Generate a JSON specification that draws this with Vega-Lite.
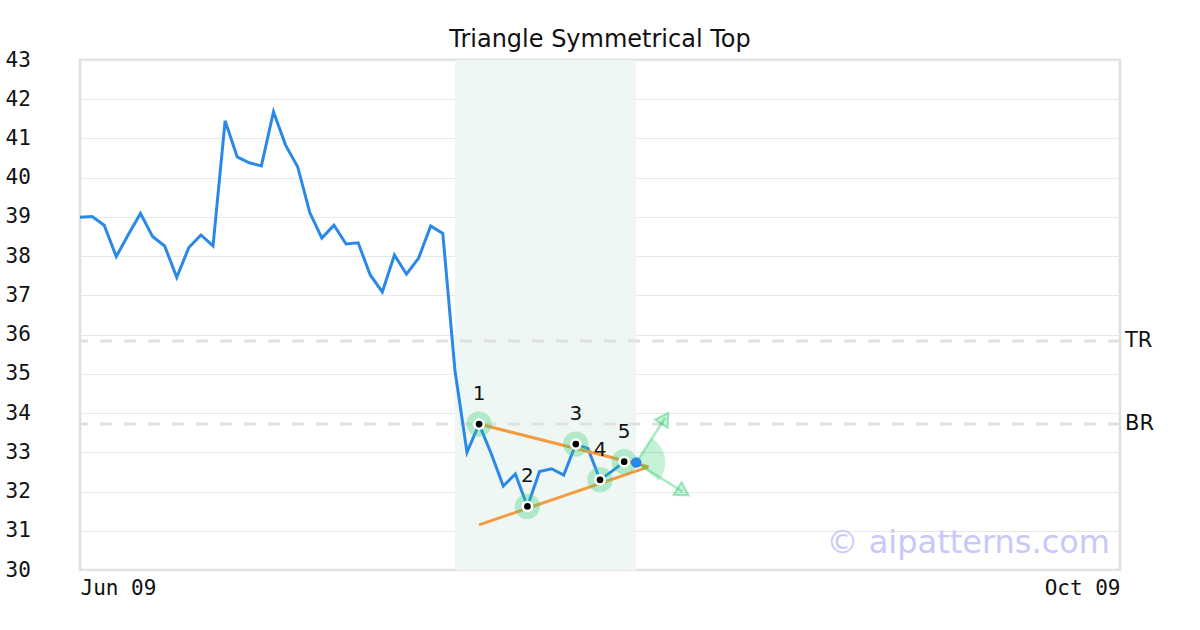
{
  "$schema": "https://vega.github.io/schema/vega-lite/v6.json",
  "width": 1040,
  "height": 510,
  "autosize": {"type": "none"},
  "padding": {"left": 80, "top": 60, "right": 80, "bottom": 60},
  "background": "white",
  "config": {
    "view": {"stroke": "#dddddd", "strokeWidth": 2.5},
    "font": "DejaVu Sans",
    "axisX": {"grid": false, "domain": false, "ticks": false, "labelFont": "DejaVu Sans Mono", "labelFontSize": 21, "labelColor": "#111111", "labelPadding": 7, "labelFlush": true, "labelOverlap": false},
    "axisY": {"grid": true, "gridColor": "#e8e8e8", "gridWidth": 1, "domain": false, "ticks": false, "tickCount": 20, "format": "d", "labelFont": "DejaVu Sans Mono", "labelFontSize": 21, "labelColor": "#111111", "labelAlign": "left", "labelBaseline": "middle", "labelPadding": 75, "labelFlush": false, "labelOverlap": false}
  },
  "title": {
    "text": "Triangle Symmetrical Top",
    "font": "DejaVu Sans",
    "fontSize": 24,
    "fontWeight": "normal",
    "color": "#111111",
    "frame": "group",
    "baseline": "alphabetic",
    "offset": -22
  },
  "datasets": {
    "price": [
      {"i": 0, "v": 38.99}, {"i": 1, "v": 39.01}, {"i": 2, "v": 38.79}, {"i": 3, "v": 37.99},
      {"i": 4, "v": 38.55}, {"i": 5, "v": 39.09}, {"i": 6, "v": 38.5}, {"i": 7, "v": 38.26},
      {"i": 8, "v": 37.46}, {"i": 9, "v": 38.22}, {"i": 10, "v": 38.54}, {"i": 11, "v": 38.26},
      {"i": 12, "v": 41.45}, {"i": 13, "v": 40.53}, {"i": 14, "v": 40.38}, {"i": 15, "v": 40.3},
      {"i": 16, "v": 41.68}, {"i": 17, "v": 40.83}, {"i": 18, "v": 40.28}, {"i": 19, "v": 39.11},
      {"i": 20, "v": 38.46}, {"i": 21, "v": 38.79}, {"i": 22, "v": 38.31}, {"i": 23, "v": 38.34},
      {"i": 24, "v": 37.52}, {"i": 25, "v": 37.09}, {"i": 26, "v": 38.03}, {"i": 27, "v": 37.54},
      {"i": 28, "v": 37.95}, {"i": 29, "v": 38.77}, {"i": 30, "v": 38.58}, {"i": 31, "v": 35.1},
      {"i": 32, "v": 33.0}, {"i": 33, "v": 33.72}, {"i": 34, "v": 32.97}, {"i": 35, "v": 32.14},
      {"i": 36, "v": 32.45}, {"i": 37, "v": 31.62}, {"i": 38, "v": 32.51}, {"i": 39, "v": 32.58},
      {"i": 40, "v": 32.42}, {"i": 41, "v": 33.21}, {"i": 42, "v": 33.1}, {"i": 43, "v": 32.3},
      {"i": 44, "v": 32.52}, {"i": 45, "v": 32.76}, {"i": 46, "v": 32.74}
    ],
    "zone": [{"start": 31, "end": 46}],
    "levels": [{"name": "TR", "v": 35.84}, {"name": "BR", "v": 33.72}],
    "trend": [
      {"line": "upper", "i": 33, "v": 33.72}, {"line": "upper", "i": 47, "v": 32.63},
      {"line": "lower", "i": 33, "v": 31.15}, {"line": "lower", "i": 47, "v": 32.63}
    ],
    "pivots": [
      {"n": "1", "i": 33, "v": 33.72}, {"n": "2", "i": 37, "v": 31.62},
      {"n": "3", "i": 41, "v": 33.21}, {"n": "4", "i": 43, "v": 32.3},
      {"n": "5", "i": 45, "v": 32.76}
    ],
    "last": [{"i": 46, "v": 32.74}],
    "arrows": [
      {"dir": "up", "i": 46, "v": 32.74}, {"dir": "up", "i": 48.4, "v": 33.88},
      {"dir": "down", "i": 46, "v": 32.74}, {"dir": "down", "i": 49.8, "v": 32.0}
    ],
    "headUp": [{"i": 48.36, "v": 33.87}],
    "headDown": [{"i": 49.87, "v": 31.99}],
    "mark": [{"text": "© aipatterns.com"}]
  },
  "layer": [
    {
      "data": {"name": "zone"},
      "mark": {"type": "rect", "color": "#eef7f3"},
      "encoding": {
        "x": {"field": "start", "type": "quantitative", "scale": {"domain": [0, 86], "nice": false, "zero": false},
          "axis": {"values": [0, 86], "labelExpr": "datum.value == 0 ? 'Jun 09' : 'Oct 09'", "title": null}},
        "x2": {"field": "end"}
      }
    },
    {
      "data": {"name": "levels"},
      "mark": {"type": "rule", "color": "#e0e0e0", "strokeWidth": 3, "strokeDash": [12, 12]},
      "encoding": {"y": {"field": "v", "type": "quantitative", "scale": {"domain": [30, 43], "nice": false, "zero": false},
        "axis": {"values": [30,31,32,33,34,35,36,37,38,39,40,41,42,43], "tickCount": 20, "format": "d", "title": null}}}
    },
    {
      "data": {"name": "levels"},
      "mark": {"type": "text", "align": "left", "baseline": "middle", "dx": 5, "fontSize": 21, "color": "#111111", "font": "DejaVu Sans"},
      "encoding": {
        "x": {"datum": 86, "type": "quantitative", "axis": {"values": [0, 86], "labelExpr": "datum.value == 0 ? 'Jun 09' : 'Oct 09'", "title": null}},
        "y": {"field": "v", "type": "quantitative", "axis": {"values": [30,31,32,33,34,35,36,37,38,39,40,41,42,43], "tickCount": 20, "format": "d", "title": null}},
        "text": {"field": "name"}
      }
    },
    {
      "data": {"name": "price"},
      "mark": {"type": "line", "color": "#2a89e8", "strokeWidth": 3},
      "encoding": {
        "x": {"field": "i", "type": "quantitative", "axis": {"values": [0, 86], "labelExpr": "datum.value == 0 ? 'Jun 09' : 'Oct 09'", "title": null}},
        "y": {"field": "v", "type": "quantitative", "axis": {"values": [30,31,32,33,34,35,36,37,38,39,40,41,42,43], "tickCount": 20, "format": "d", "title": null}}
      }
    },
    {
      "data": {"name": "trend"},
      "mark": {"type": "line", "color": "#f59a3f", "strokeWidth": 3},
      "encoding": {
        "x": {"field": "i", "type": "quantitative", "axis": {"values": [0, 86], "labelExpr": "datum.value == 0 ? 'Jun 09' : 'Oct 09'", "title": null}},
        "y": {"field": "v", "type": "quantitative", "axis": {"values": [30,31,32,33,34,35,36,37,38,39,40,41,42,43], "tickCount": 20, "format": "d", "title": null}},
        "detail": {"field": "line"}
      }
    },
    {
      "data": {"name": "last"},
      "mark": {"type": "arc", "theta": 0.58, "theta2": 2.25, "radius": 29, "color": "#2ecc71", "opacity": 0.28},
      "encoding": {
        "x": {"field": "i", "type": "quantitative", "axis": {"values": [0, 86], "labelExpr": "datum.value == 0 ? 'Jun 09' : 'Oct 09'", "title": null}},
        "y": {"field": "v", "type": "quantitative", "axis": {"values": [30,31,32,33,34,35,36,37,38,39,40,41,42,43], "tickCount": 20, "format": "d", "title": null}}
      }
    },
    {
      "data": {"name": "arrows"},
      "mark": {"type": "line", "color": "#2ecc71", "strokeWidth": 2.5, "opacity": 0.42},
      "encoding": {
        "x": {"field": "i", "type": "quantitative", "axis": {"values": [0, 86], "labelExpr": "datum.value == 0 ? 'Jun 09' : 'Oct 09'", "title": null}},
        "y": {"field": "v", "type": "quantitative", "axis": {"values": [30,31,32,33,34,35,36,37,38,39,40,41,42,43], "tickCount": 20, "format": "d", "title": null}},
        "detail": {"field": "dir"}
      }
    },
    {
      "data": {"name": "headUp"},
      "mark": {"type": "point", "shape": "triangle-up", "angle": 33, "size": 220, "filled": true, "fill": "#2ecc71", "fillOpacity": 0.25, "stroke": "#2ecc71", "strokeOpacity": 0.45, "strokeWidth": 2},
      "encoding": {
        "x": {"field": "i", "type": "quantitative", "axis": {"values": [0, 86], "labelExpr": "datum.value == 0 ? 'Jun 09' : 'Oct 09'", "title": null}},
        "y": {"field": "v", "type": "quantitative", "axis": {"values": [30,31,32,33,34,35,36,37,38,39,40,41,42,43], "tickCount": 20, "format": "d", "title": null}}
      }
    },
    {
      "data": {"name": "headDown"},
      "mark": {"type": "point", "shape": "triangle-up", "angle": 122, "size": 220, "filled": true, "fill": "#2ecc71", "fillOpacity": 0.25, "stroke": "#2ecc71", "strokeOpacity": 0.45, "strokeWidth": 2},
      "encoding": {
        "x": {"field": "i", "type": "quantitative", "axis": {"values": [0, 86], "labelExpr": "datum.value == 0 ? 'Jun 09' : 'Oct 09'", "title": null}},
        "y": {"field": "v", "type": "quantitative", "axis": {"values": [30,31,32,33,34,35,36,37,38,39,40,41,42,43], "tickCount": 20, "format": "d", "title": null}}
      }
    },
    {
      "data": {"name": "pivots"},
      "mark": {"type": "point", "filled": true, "size": 640, "color": "#2ecc71", "opacity": 0.32},
      "encoding": {
        "x": {"field": "i", "type": "quantitative", "axis": {"values": [0, 86], "labelExpr": "datum.value == 0 ? 'Jun 09' : 'Oct 09'", "title": null}},
        "y": {"field": "v", "type": "quantitative", "axis": {"values": [30,31,32,33,34,35,36,37,38,39,40,41,42,43], "tickCount": 20, "format": "d", "title": null}}
      }
    },
    {
      "data": {"name": "pivots"},
      "mark": {"type": "point", "filled": true, "size": 140, "color": "#ffffff", "opacity": 1},
      "encoding": {
        "x": {"field": "i", "type": "quantitative", "axis": {"values": [0, 86], "labelExpr": "datum.value == 0 ? 'Jun 09' : 'Oct 09'", "title": null}},
        "y": {"field": "v", "type": "quantitative", "axis": {"values": [30,31,32,33,34,35,36,37,38,39,40,41,42,43], "tickCount": 20, "format": "d", "title": null}}
      }
    },
    {
      "data": {"name": "pivots"},
      "mark": {"type": "point", "filled": true, "size": 45, "color": "#000000", "opacity": 1},
      "encoding": {
        "x": {"field": "i", "type": "quantitative", "axis": {"values": [0, 86], "labelExpr": "datum.value == 0 ? 'Jun 09' : 'Oct 09'", "title": null}},
        "y": {"field": "v", "type": "quantitative", "axis": {"values": [30,31,32,33,34,35,36,37,38,39,40,41,42,43], "tickCount": 20, "format": "d", "title": null}}
      }
    },
    {
      "data": {"name": "last"},
      "mark": {"type": "point", "filled": true, "size": 110, "color": "#2a89e8", "opacity": 1},
      "encoding": {
        "x": {"field": "i", "type": "quantitative", "axis": {"values": [0, 86], "labelExpr": "datum.value == 0 ? 'Jun 09' : 'Oct 09'", "title": null}},
        "y": {"field": "v", "type": "quantitative", "axis": {"values": [30,31,32,33,34,35,36,37,38,39,40,41,42,43], "tickCount": 20, "format": "d", "title": null}}
      }
    },
    {
      "data": {"name": "pivots"},
      "mark": {"type": "text", "fontSize": 20, "dy": -30, "baseline": "middle", "align": "center", "color": "#111111", "font": "DejaVu Sans"},
      "encoding": {
        "x": {"field": "i", "type": "quantitative", "axis": {"values": [0, 86], "labelExpr": "datum.value == 0 ? 'Jun 09' : 'Oct 09'", "title": null}},
        "y": {"field": "v", "type": "quantitative", "axis": {"values": [30,31,32,33,34,35,36,37,38,39,40,41,42,43], "tickCount": 20, "format": "d", "title": null}},
        "text": {"field": "n"}
      }
    },
    {
      "data": {"name": "mark"},
      "mark": {"type": "text", "fontSize": 32, "align": "right", "baseline": "alphabetic", "dx": -10, "dy": -17, "color": "#c8c8fa", "font": "DejaVu Sans"},
      "encoding": {
        "x": {"datum": 86, "type": "quantitative", "axis": {"values": [0, 86], "labelExpr": "datum.value == 0 ? 'Jun 09' : 'Oct 09'", "title": null}},
        "y": {"datum": 30, "type": "quantitative", "axis": {"values": [30,31,32,33,34,35,36,37,38,39,40,41,42,43], "tickCount": 20, "format": "d", "title": null}},
        "text": {"field": "text"}
      }
    }
  ]
}
